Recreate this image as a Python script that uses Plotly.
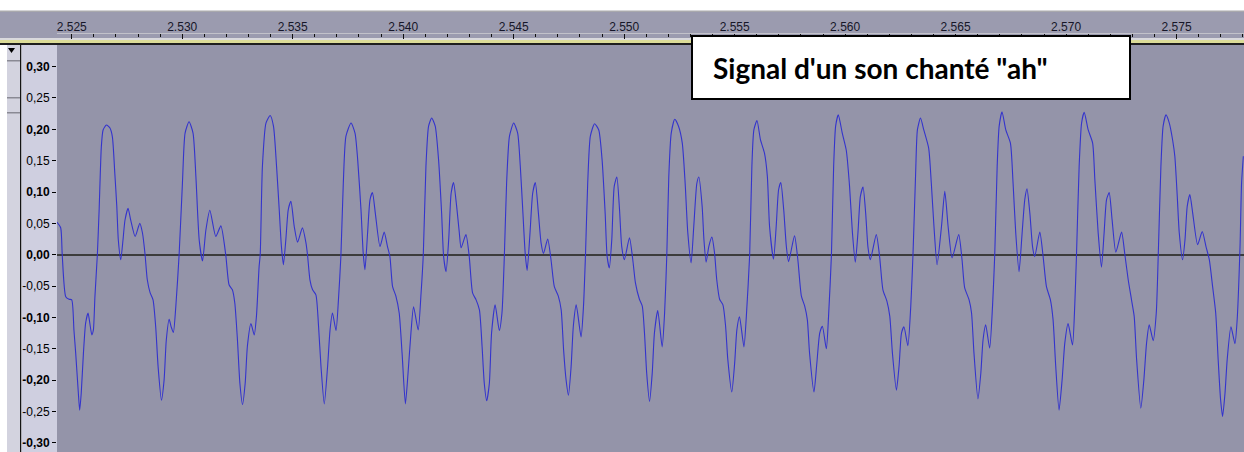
import plotly.graph_objects as go

# ---- data (time in s, amplitude) ----
time_s = [
    2.52433, 2.52450, 2.52457, 2.52473, 2.52488, 2.52500, 2.52510, 2.52518, 2.52530, 2.52536,
    2.52543, 2.52553, 2.52563, 2.52574, 2.52581, 2.52591, 2.52598, 2.52605, 2.52616, 2.52624,
    2.52634, 2.52642, 2.52657, 2.52673, 2.52684, 2.52695, 2.52704, 2.52711, 2.52722, 2.52732,
    2.52741, 2.52755, 2.52767, 2.52787, 2.52808, 2.52820, 2.52832, 2.52842, 2.52855, 2.52868,
    2.52880, 2.52891, 2.52906, 2.52918, 2.52928, 2.52941, 2.52950, 2.52960, 2.52971, 2.52986,
    2.53001, 2.53013, 2.53031, 2.53049, 2.53062, 2.53077, 2.53092, 2.53107, 2.53125, 2.53152,
    2.53175, 2.53197, 2.53212, 2.53227, 2.53238, 2.53250, 2.53261, 2.53273, 2.53285, 2.53295,
    2.53311, 2.53326, 2.53336, 2.53348, 2.53353, 2.53363, 2.53379, 2.53398, 2.53413, 2.53427,
    2.53439, 2.53449, 2.53458, 2.53469, 2.53480, 2.53492, 2.53507, 2.53522, 2.53544, 2.53560,
    2.53567, 2.53578, 2.53590, 2.53605, 2.53617, 2.53628, 2.53643, 2.53658, 2.53669, 2.53680,
    2.53696, 2.53707, 2.53718, 2.53729, 2.53741, 2.53764, 2.53782, 2.53794, 2.53809, 2.53819,
    2.53827, 2.53839, 2.53850, 2.53861, 2.53874, 2.53895, 2.53914, 2.53929, 2.53940, 2.53952,
    2.53967, 2.53982, 2.53995, 2.54010, 2.54022, 2.54035, 2.54047, 2.54068, 2.54081, 2.54091,
    2.54103, 2.54115, 2.54129, 2.54145, 2.54160, 2.54174, 2.54183, 2.54194, 2.54206, 2.54217,
    2.54228, 2.54242, 2.54254, 2.54262, 2.54284, 2.54299, 2.54314, 2.54330, 2.54345, 2.54357,
    2.54367, 2.54378, 2.54390, 2.54400, 2.54416, 2.54435, 2.54447, 2.54458, 2.54468, 2.54481,
    2.54500, 2.54518, 2.54530, 2.54541, 2.54552, 2.54561, 2.54574, 2.54586, 2.54598, 2.54612,
    2.54624, 2.54635, 2.54654, 2.54669, 2.54684, 2.54702, 2.54715, 2.54726, 2.54737, 2.54748,
    2.54760, 2.54770, 2.54783, 2.54805, 2.54816, 2.54825, 2.54835, 2.54847, 2.54866, 2.54885,
    2.54900, 2.54914, 2.54923, 2.54933, 2.54944, 2.54955, 2.54967, 2.54979, 2.54989, 2.55001,
    2.55024, 2.55039, 2.55051, 2.55069, 2.55082, 2.55092, 2.55102, 2.55115, 2.55127, 2.55137,
    2.55152, 2.55172, 2.55183, 2.55193, 2.55202, 2.55213, 2.55229, 2.55246, 2.55263, 2.55276,
    2.55288, 2.55303, 2.55315, 2.55329, 2.55338, 2.55353, 2.55361, 2.55371, 2.55383, 2.55397,
    2.55409, 2.55419, 2.55432, 2.55447, 2.55459, 2.55469, 2.55487, 2.55500, 2.55510, 2.55522,
    2.55542, 2.55553, 2.55568, 2.55578, 2.55587, 2.55601, 2.55617, 2.55635, 2.55648, 2.55658,
    2.55676, 2.55688, 2.55699, 2.55709, 2.55722, 2.55734, 2.55744, 2.55771, 2.55786, 2.55802,
    2.55817, 2.55829, 2.55839, 2.55859, 2.55872, 2.55885, 2.55897, 2.55915, 2.55925, 2.55938,
    2.55948, 2.55957, 2.55969, 2.55987, 2.56005, 2.56020, 2.56033, 2.56046, 2.56058, 2.56069,
    2.56081, 2.56093, 2.56103, 2.56114, 2.56141, 2.56156, 2.56171, 2.56189, 2.56202, 2.56214,
    2.56232, 2.56244, 2.56255, 2.56266, 2.56284, 2.56297, 2.56307, 2.56319, 2.56327, 2.56341,
    2.56356, 2.56378, 2.56390, 2.56402, 2.56416, 2.56436, 2.56451, 2.56466, 2.56484, 2.56514,
    2.56529, 2.56541, 2.56561, 2.56572, 2.56583, 2.56601, 2.56614, 2.56624, 2.56636, 2.56654,
    2.56667, 2.56677, 2.56688, 2.56697, 2.56710, 2.56727, 2.56748, 2.56760, 2.56772, 2.56787,
    2.56801, 2.56813, 2.56823, 2.56836, 2.56848, 2.56858, 2.56881, 2.56896, 2.56911, 2.56929,
    2.56941, 2.56953, 2.56968, 2.56982, 2.56994, 2.57009, 2.57029, 2.57039, 2.57047, 2.57059,
    2.57070, 2.57082, 2.57100, 2.57120, 2.57130, 2.57145, 2.57160, 2.57172, 2.57183, 2.57195,
    2.57208, 2.57225, 2.57251, 2.57266, 2.57281, 2.57296, 2.57308, 2.57319, 2.57338, 2.57352,
    2.57364, 2.57376, 2.57394, 2.57408, 2.57417, 2.57429, 2.57439, 2.57452, 2.57467, 2.57482,
    2.57492, 2.57503, 2.57512, 2.57527, 2.57538, 2.57548, 2.57560, 2.57573, 2.57595, 2.57616,
    2.57633, 2.57648, 2.57663, 2.57677, 2.57688, 2.57699, 2.57708, 2.57719, 2.57729, 2.57746,
    2.57764, 2.57774, 2.57787, 2.57794, 2.57802,
]
amplitude = [
    0.052, 0.043, 0.000, -0.067, -0.071, -0.072, -0.120, -0.157, -0.221, -0.248,
    -0.221, -0.157, -0.109, -0.093, -0.107, -0.128, -0.120, -0.067, 0.000, 0.071,
    0.172, 0.199, 0.207, 0.202, 0.188, 0.130, 0.077, 0.023, -0.008, 0.023,
    0.055, 0.074, 0.055, 0.029, 0.050, 0.035, 0.000, -0.040, -0.061, -0.072,
    -0.115, -0.179, -0.232, -0.200, -0.136, -0.103, -0.115, -0.124, -0.083, 0.000,
    0.114, 0.194, 0.212, 0.194, 0.124, 0.023, -0.010, 0.039, 0.071, 0.029,
    0.046, 0.000, -0.048, -0.056, -0.077, -0.136, -0.205, -0.239, -0.205, -0.146,
    -0.110, -0.128, -0.098, -0.019, 0.000, 0.141, 0.210, 0.222, 0.205, 0.141,
    0.072, 0.013, -0.016, 0.024, 0.072, 0.085, 0.045, 0.020, 0.043, 0.019,
    0.000, -0.040, -0.056, -0.064, -0.114, -0.178, -0.238, -0.178, -0.120, -0.093,
    -0.121, -0.072, -0.003, 0.114, 0.189, 0.210, 0.194, 0.152, 0.072, 0.003,
    -0.024, 0.035, 0.088, 0.099, 0.066, 0.013, 0.036, 0.013, -0.003, -0.051,
    -0.066, -0.093, -0.157, -0.238, -0.189, -0.125, -0.083, -0.120, -0.061, 0.000,
    0.141, 0.205, 0.218, 0.205, 0.152, 0.066, -0.003, -0.027, 0.024, 0.098,
    0.115, 0.077, 0.035, 0.011, 0.032, -0.003, -0.061, -0.072, -0.088, -0.146,
    -0.205, -0.233, -0.205, -0.125, -0.080, -0.121, -0.093, 0.000, 0.114, 0.189,
    0.210, 0.194, 0.141, 0.072, 0.003, -0.025, 0.035, 0.098, 0.115, 0.066,
    0.019, 0.002, 0.025, -0.008, -0.051, -0.066, -0.088, -0.152, -0.199, -0.224,
    -0.178, -0.114, -0.080, -0.131, -0.082, 0.000, 0.114, 0.189, 0.209, 0.199,
    0.152, 0.066, -0.003, -0.021, 0.024, 0.109, 0.124, 0.072, 0.013, -0.008,
    0.027, -0.008, -0.045, -0.071, -0.082, -0.125, -0.189, -0.234, -0.189, -0.125,
    -0.089, -0.147, -0.093, 0.000, 0.125, 0.194, 0.216, 0.205, 0.178, 0.114,
    0.035, -0.013, 0.045, 0.114, 0.124, 0.077, 0.024, -0.012, 0.013, 0.028,
    0.003, -0.040, -0.071, -0.080, -0.114, -0.167, -0.219, -0.173, -0.120, -0.099,
    -0.147, -0.098, 0.000, 0.141, 0.199, 0.214, 0.183, 0.162, 0.125, 0.045,
    -0.007, 0.045, 0.104, 0.115, 0.072, 0.013, -0.011, 0.030, -0.008, -0.066,
    -0.082, -0.104, -0.157, -0.219, -0.173, -0.125, -0.114, -0.150, -0.098, 0.000,
    0.141, 0.205, 0.223, 0.194, 0.167, 0.109, 0.035, -0.012, 0.035, 0.093,
    0.108, 0.066, 0.013, -0.008, 0.032, -0.003, -0.056, -0.074, -0.098, -0.157,
    -0.216, -0.178, -0.125, -0.115, -0.145, -0.082, 0.000, 0.130, 0.199, 0.218,
    0.199, 0.170, 0.114, 0.045, -0.016, 0.045, 0.101, 0.045, -0.005, 0.032,
    -0.008, -0.053, -0.072, -0.093, -0.157, -0.230, -0.189, -0.136, -0.112, -0.149,
    -0.082, 0.000, 0.141, 0.205, 0.228, 0.199, 0.178, 0.114, 0.035, -0.027,
    0.035, 0.088, 0.105, 0.066, 0.013, -0.003, 0.036, -0.003, -0.051, -0.072,
    -0.104, -0.178, -0.248, -0.199, -0.141, -0.110, -0.144, -0.082, 0.000, 0.141,
    0.210, 0.227, 0.199, 0.178, 0.120, 0.035, -0.020, 0.035, 0.088, 0.099,
    0.056, 0.004, 0.036, 0.000, -0.040, -0.072, -0.098, -0.167, -0.245, -0.199,
    -0.141, -0.112, -0.137, -0.093, 0.000, 0.141, 0.205, 0.223, 0.210, 0.183,
    0.157, 0.093, 0.035, -0.008, 0.024, 0.077, 0.096, 0.066, 0.016, 0.037,
    0.013, -0.008, -0.051, -0.093, -0.167, -0.231, -0.258, -0.221, -0.167, -0.115,
    -0.142, -0.104, 0.013, 0.114, 0.157,
]

x_range = [2.524334, 2.578050]
y_range = [-0.3147, 0.3345]
ruler_tick0 = 2.525
ruler_major = 0.005
ruler_minor = 0.001
y_tick_vals = [0.30, 0.25, 0.20, 0.15, 0.10, 0.05, 0.00, -0.05, -0.10, -0.15, -0.20, -0.25, -0.30]
y_tick_text = ["<b>0,30</b>", "0,25", "<b>0,20</b>", "0,15", "<b>0,10</b>", "0,05", "<b>0,00</b>",
               "-0,05", "<b>-0,10</b>", "-0,15", "<b>-0,20</b>", "-0,25", "<b>-0,30</b>"]
title_text = "Signal d'un son chanté \"ah\""

W, H = 1244, 452


def px(x):
    return x / W


def py(y):
    return 1 - y / H


def rect(x0, y0, x1, y1, fill, layer="below", line=None):
    d = dict(type="rect", xref="paper", yref="paper", x0=px(x0), x1=px(x1), y0=py(y0), y1=py(y1),
             fillcolor=fill, layer=layer, line=dict(width=0))
    if line:
        d["line"] = line
    return d


fig = go.Figure()
fig.add_trace(go.Scatter(
    x=time_s, y=amplitude, mode="lines",
    line=dict(color="#3434cc", width=1.1, shape="spline", smoothing=0.6),
    hoverinfo="skip", showlegend=False,
))

shapes = [
    rect(0, 10.5, W, 12, "#a9a9ad"),
    rect(0, 12, W, 38, "#9b9baf"),
    rect(0, 38, W, 40, "#d9d9dd"),
    rect(0, 40, W, 43, "#dcdc98"),
    rect(0, 43, W, 45, "#1e1e1e"),
    rect(7, 45, 20, H, "#d3d3df"),
    rect(20, 45, 21.5, H, "#141414"),
    rect(21.5, 45, 57, H, "#cfcfe0"),
    rect(7, 60, 20, 61.5, "#8a8a94"),
    rect(7, 97, 20, 98.5, "#8a8a94"),
    rect(7, 112, 20, 113.5, "#8a8a94"),
    dict(type="path", xref="paper", yref="paper", layer="above",
         path=f"M {px(8)},{py(48)} L {px(15)},{py(48)} L {px(11.5)},{py(53)} Z",
         fillcolor="#000000", line=dict(width=0)),
    dict(type="rect", xref="paper", yref="paper", layer="above",
         x0=px(692), x1=px(1130), y0=py(36), y1=py(99),
         fillcolor="#ffffff", line=dict(color="#000000", width=2)),
]

fig.update_layout(
    width=W, height=H,
    margin=dict(l=0, r=0, t=0, b=0),
    paper_bgcolor="#ffffff",
    plot_bgcolor="#9494a9",
    shapes=shapes,
    xaxis=dict(
        domain=[px(57), 1], range=x_range, side="top", anchor="free", position=py(33),
        showgrid=False, zeroline=False, showline=True, linecolor="#c2c2ca", linewidth=1,
        ticks="inside", ticklen=5, tickwidth=1, tickcolor="#101010",
        tick0=ruler_tick0, dtick=ruler_major, tickformat=".3f", ticklabelstandoff=-3,
        tickfont=dict(family="Liberation Sans, Arial", size=12, color="#161628"),
        minor=dict(dtick=ruler_minor, tick0=ruler_tick0, ticks="inside", ticklen=3,
                   tickwidth=1, tickcolor="#101010", showgrid=False),
    ),
    yaxis=dict(
        domain=[0, py(45)], range=y_range, anchor="x",
        showgrid=False, showline=False,
        zeroline=True, zerolinecolor="#3c3c3c", zerolinewidth=2,
        tickmode="array", tickvals=y_tick_vals, ticktext=y_tick_text,
        ticks="outside", ticklen=4, tickwidth=1, tickcolor="#000000",
        tickfont=dict(family="Liberation Sans, Arial", size=12, color="#000000"),
    ),
    annotations=[dict(
        xref="paper", yref="paper", x=px(711), y=py(68), xanchor="left", yanchor="middle",
        text=f"<b>{title_text}</b>", showarrow=False,
        font=dict(family="Lato, Open Sans, sans-serif", size=28, color="#000000"),
    )],
)

fig.write_html(
    "out.html",
    config={"displayModeBar": False},
    post_script="document.body.style.margin='0';document.body.style.padding='0';"
                "document.body.style.overflow='hidden';",
)
